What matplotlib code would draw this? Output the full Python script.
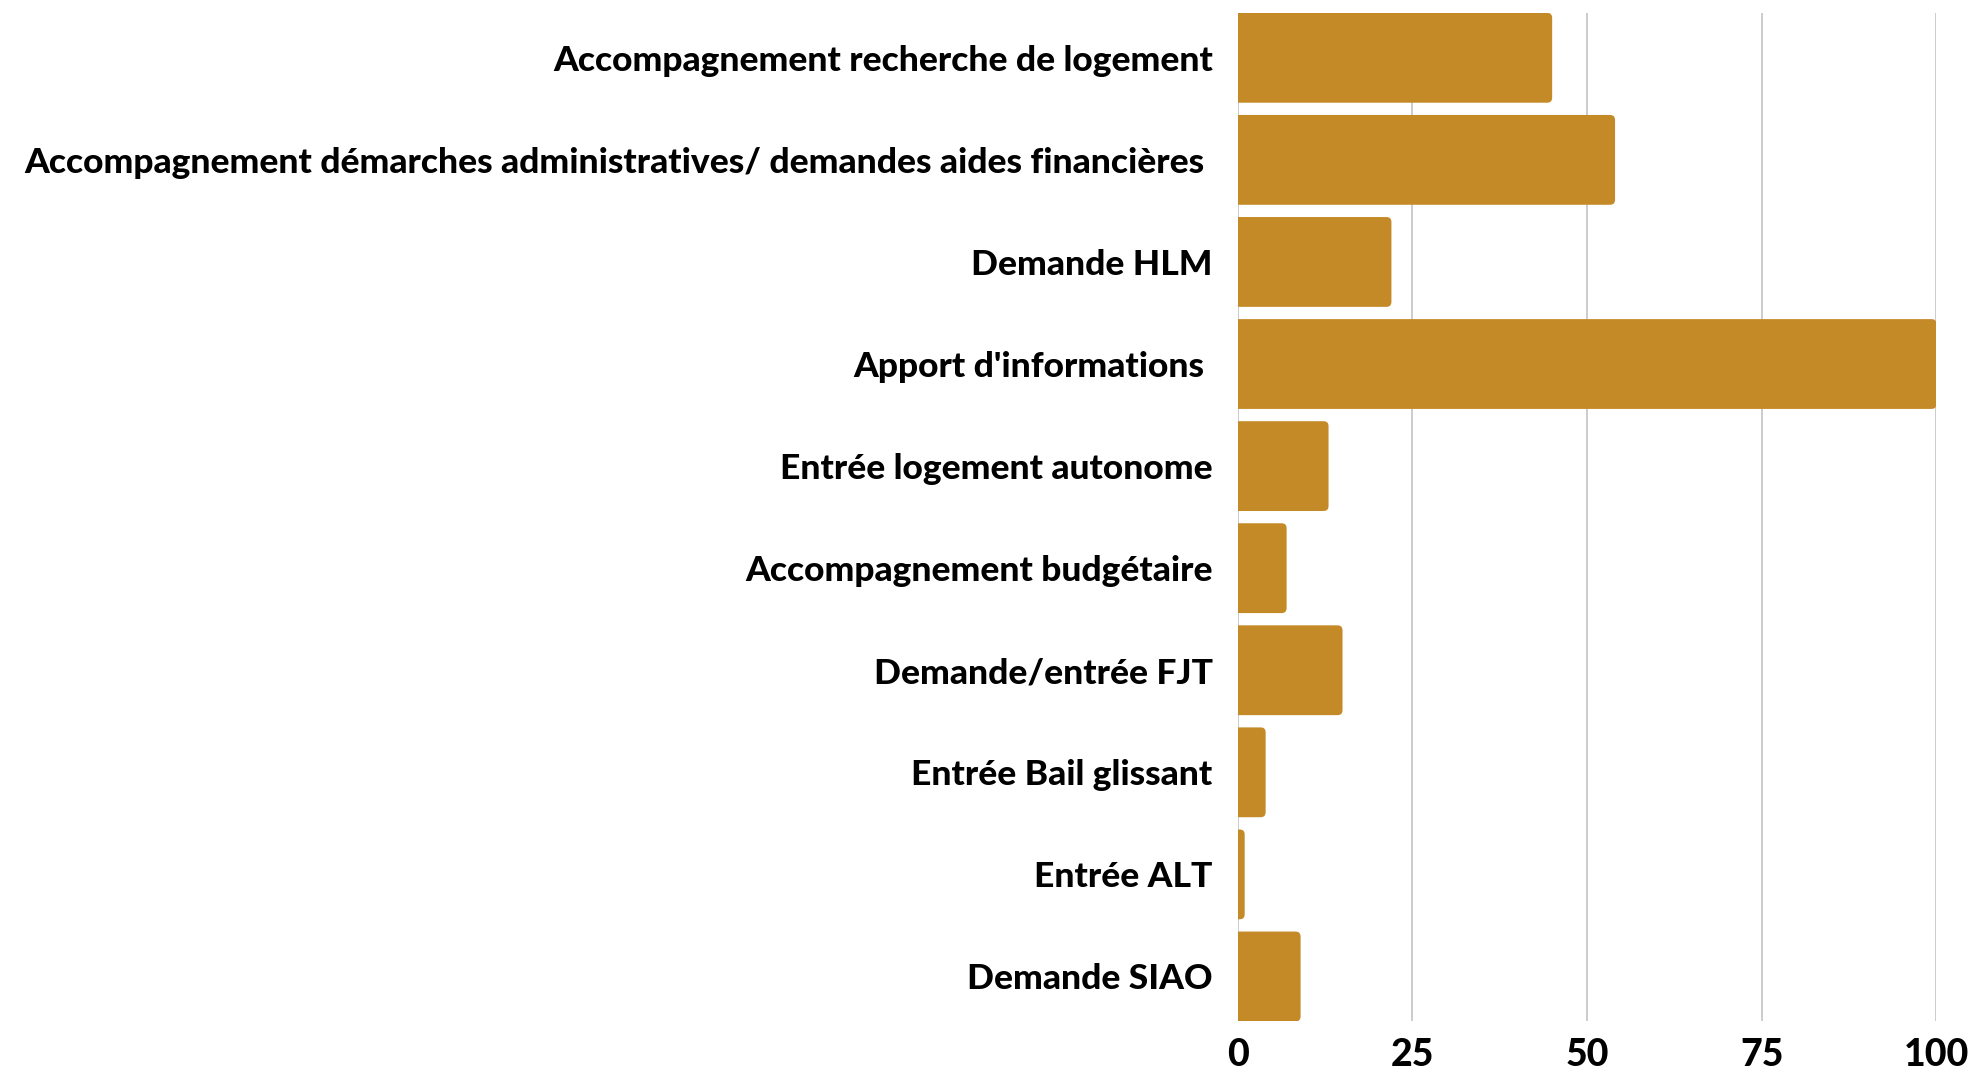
import matplotlib
matplotlib.use("Agg")
import matplotlib.pyplot as plt
from matplotlib.patches import FancyBboxPatch

# ======= Donnees =======
categories = [
    "Accompagnement recherche de logement",
    "Accompagnement démarches administratives/ demandes aides financières ",
    "Demande HLM",
    "Apport d'informations ",
    "Entrée logement autonome",
    "Accompagnement budgétaire",
    "Demande/entrée FJT",
    "Entrée Bail glissant",
    "Entrée ALT",
    "Demande SIAO",
]
values = [45, 54, 22, 100, 13, 7, 15, 4, 1, 9]
xticks = [0, 25, 50, 75, 100]

BAR_COLOR = "#C48A28"
GRID_COLOR = "#C8C8C8"

plt.rcParams['font.family'] = ['Lato', 'DejaVu Sans']

fig = plt.figure(figsize=(19.74, 10.74), dpi=100)
ax = fig.add_axes([0.627, 0.049, 0.354, 0.939])

bar_h = 0.88
ypos = list(range(len(categories)))
ax.set_xlim(0, 100)
ax.set_ylim(len(categories) - 1 + bar_h / 2, -bar_h / 2)

# --- conversion pour arrondir les coins sans deformation ---
fig.canvas.draw()
p0 = ax.transData.transform((0, 0))
p1 = ax.transData.transform((1, 1))
px_x = abs(p1[0] - p0[0])
px_y = abs(p1[1] - p0[1])
aspect = px_x / px_y
radius = 5 / px_x  # ~5 px en unites x

for y, v in zip(ypos, values):
    box = FancyBboxPatch((-2, y - bar_h / 2), v + 2, bar_h,
                         boxstyle=f"round,pad=0,rounding_size={radius}",
                         mutation_aspect=aspect,
                         facecolor=BAR_COLOR, edgecolor="none", zorder=2)
    ax.add_patch(box)

ax.set_yticks(ypos)
ax.set_yticklabels(categories, fontsize=25.5, fontweight='black')
ax.set_xticks(xticks)
ax.set_xticklabels([str(t) for t in xticks], fontsize=27, fontweight='black')
ax.tick_params(axis='y', length=0, pad=18)
ax.tick_params(axis='x', length=0, pad=12)

ax.grid(axis='x', color=GRID_COLOR, linewidth=1.3, zorder=0)
ax.set_axisbelow(True)
for s in ax.spines.values():
    s.set_visible(False)

fig.savefig("out.png", dpi=100)
